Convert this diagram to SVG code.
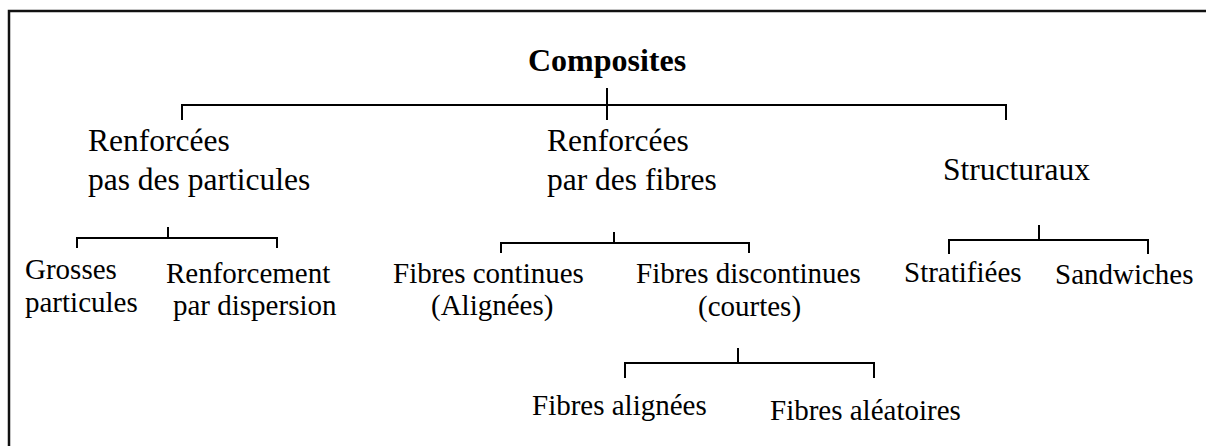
<svg xmlns="http://www.w3.org/2000/svg" width="1206" height="446" viewBox="0 0 1206 446">
  <style>
    text { font-family: "Liberation Serif", Tinos, "Times New Roman", Times, serif; font-size: 29px; fill: #000; }
    text.root { font-weight: bold; font-size: 32px; }
    .major text { font-size: 31.5px; }
    .conn { fill: none; stroke: #000; stroke-width: 2; }
    .frame { fill: none; stroke: #111; stroke-width: 2.5; }
  </style>
  <rect width="1206" height="446" fill="#fff"/>
  <!-- outer frame: only the top and left edges fall inside the page -->
  <path class="frame" d="M9,460 V11 H1220"/>

  <g id="connectors">
    <path class="conn" d="M182,120 V105 H1006 V120 M607,88 V120"/>
    <path class="conn" d="M77,248 V238 H277 V248 M168,227 V238"/>
    <path class="conn" d="M501,253 V243 H749 V253 M614,232 V243"/>
    <path class="conn" d="M949,254 V240 H1148 V254 M1039,225 V240"/>
    <path class="conn" d="M625,378 V363 H874 V378 M738,348 V363"/>
  </g>

  <g id="composites"><text class="root" x="607" y="71" text-anchor="middle">Composites</text></g>

  <g id="particules" class="major">
    <text x="88" y="151">Renforcées</text>
    <text x="88" y="190">pas des particules</text>
  </g>
  <g id="fibres" class="major">
    <text x="547" y="151">Renforcées</text>
    <text x="547" y="190">par des fibres</text>
  </g>
  <g id="structuraux" class="major"><text x="943" y="180">Structuraux</text></g>

  <g id="grosses">
    <text x="25" y="279">Grosses</text>
    <text x="25" y="312">particules</text>
  </g>
  <g id="dispersion">
    <text x="166" y="283">Renforcement</text>
    <text x="173" y="315">par dispersion</text>
  </g>
  <g id="continues">
    <text x="393" y="283">Fibres continues</text>
    <text x="431" y="315">(Alignées)</text>
  </g>
  <g id="discontinues">
    <text x="636" y="283">Fibres discontinues</text>
    <text x="698" y="316">(courtes)</text>
  </g>
  <g id="stratifiees"><text x="904" y="282">Stratifiées</text></g>
  <g id="sandwiches"><text x="1055" y="284">Sandwiches</text></g>
  <g id="alignees"><text x="532" y="415">Fibres alignées</text></g>
  <g id="aleatoires"><text x="770" y="420">Fibres aléatoires</text></g>
</svg>
